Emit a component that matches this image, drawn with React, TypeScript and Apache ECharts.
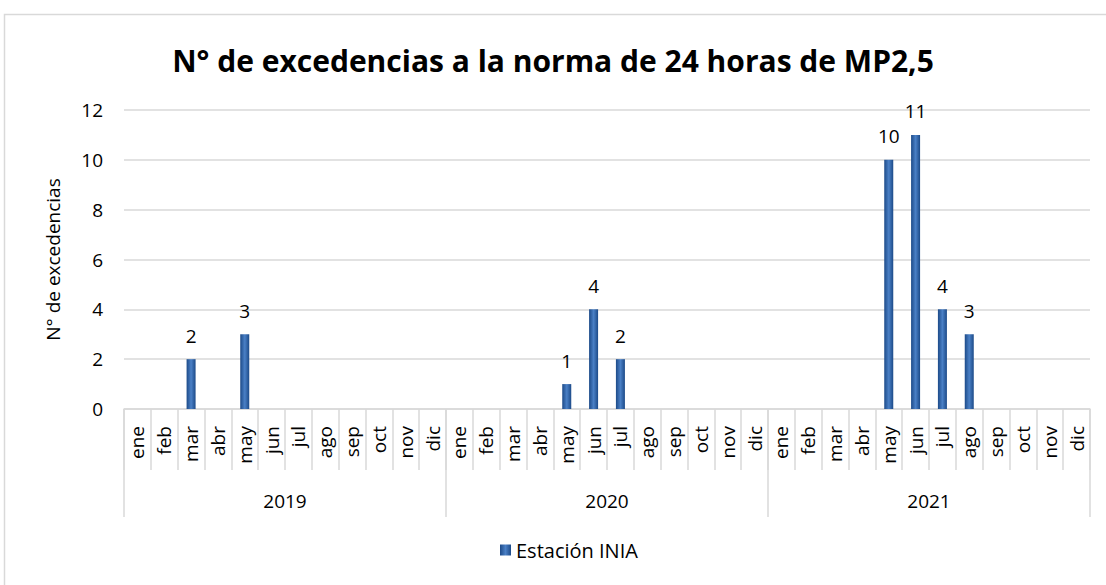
import React, { useEffect, useRef } from "react";
import * as echarts from "echarts";

const months = ["ene", "feb", "mar", "abr", "may", "jun", "jul", "ago", "sep", "oct", "nov", "dic"];
const years = ["2019", "2020", "2021"];
const values2019 = [null, null, 2, null, 3, null, null, null, null, null, null, null];
const values2020 = [null, null, null, null, 1, 4, 2, null, null, null, null, null];
const values2021 = [null, null, null, null, 10, 11, 4, 3, null, null, null, null];
const yTicks = [0, 2, 4, 6, 8, 10, 12];
const seriesName = "Estación INIA";
const titleText = "N° de excedencias a la norma de 24 horas de MP2,5";
const yAxisName = "N° de excedencias";

const FONT = "'Open Sans', 'Noto Sans', sans-serif";

export default function App() {
  const ref = useRef<HTMLDivElement>(null);
  useEffect(() => {
    if (!ref.current) return;
    const chart = echarts.init(ref.current, null, { renderer: "svg" });
    const categories: string[] = [];
    years.forEach(() => months.forEach((m) => categories.push(m)));
    const data = [...values2019, ...values2020, ...values2021];
    const barColor = new echarts.graphic.LinearGradient(0, 0, 1, 0, [
      { offset: 0, color: "#1c4a88" },
      { offset: 0.5, color: "#4a80c6" },
      { offset: 1, color: "#1c4a88" },
    ]);
    chart.setOption({
      animation: false,
      backgroundColor: "#ffffff",
      graphic: [
        {
          type: "rect",
          shape: { x: 4.5, y: 14.5, width: 1110, height: 600 },
          style: { fill: "none", stroke: "#d9d9d9", lineWidth: 1.5 },
          silent: true,
        },
      ],
      title: {
        text: titleText,
        left: "center",
        top: 40,
        textStyle: { fontFamily: FONT, fontWeight: "bold", fontSize: 30, color: "#000" },
      },
      legend: {
        data: [seriesName],
        bottom: 20,
        left: 495,
        itemWidth: 11,
        itemHeight: 11,
        itemGap: 6,
        icon: "rect",
        textStyle: { fontFamily: FONT, fontSize: 20, color: "#000" },
      },
      grid: { left: 124, right: 16, top: 110, bottom: 176, containLabel: false },
      xAxis: [
        {
          type: "category",
          data: categories,
          position: "bottom",
          axisLine: { show: true, lineStyle: { color: "#d9d9d9", width: 1.5 } },
          axisTick: { show: true, interval: 0, length: 61, lineStyle: { color: "#d9d9d9", width: 1.5 } },
          axisLabel: {
            interval: 0,
            rotate: 90,
            margin: 17,
            fontFamily: FONT,
            fontSize: 19,
            color: "#000",
          },
        },
        {
          type: "category",
          data: years,
          position: "bottom",
          axisLine: { show: false },
          axisTick: { show: true, interval: 0, length: 108, lineStyle: { color: "#d9d9d9", width: 1.5 } },
          axisLabel: {
            interval: 0,
            margin: 82,
            fontFamily: FONT,
            fontSize: 19,
            color: "#000",
          },
        },
      ],
      yAxis: {
        type: "value",
        min: yTicks[0],
        max: yTicks[yTicks.length - 1],
        interval: 2,
        name: yAxisName,
        nameLocation: "middle",
        nameGap: 62,
        nameTextStyle: { fontFamily: FONT, fontSize: 19, color: "#000" },
        axisLine: { show: false },
        axisTick: { show: false },
        axisLabel: { margin: 21, fontFamily: FONT, fontSize: 19, color: "#000" },
        splitLine: { lineStyle: { color: "#d9d9d9", width: 1.5 } },
      },
      series: [
        {
          name: seriesName,
          type: "bar",
          xAxisIndex: 0,
          data,
          barWidth: 9,
          itemStyle: { color: barColor },
          label: {
            show: true,
            position: "top",
            distance: 14,
            fontFamily: FONT,
            fontSize: 19,
            color: "#000",
          },
        },
      ],
    });
    return () => chart.dispose();
  }, []);
  return (
    <div
      ref={ref}
      style={{ position: "absolute", left: 0, top: 0, width: 1106, height: 585 }}
    />
  );
}
